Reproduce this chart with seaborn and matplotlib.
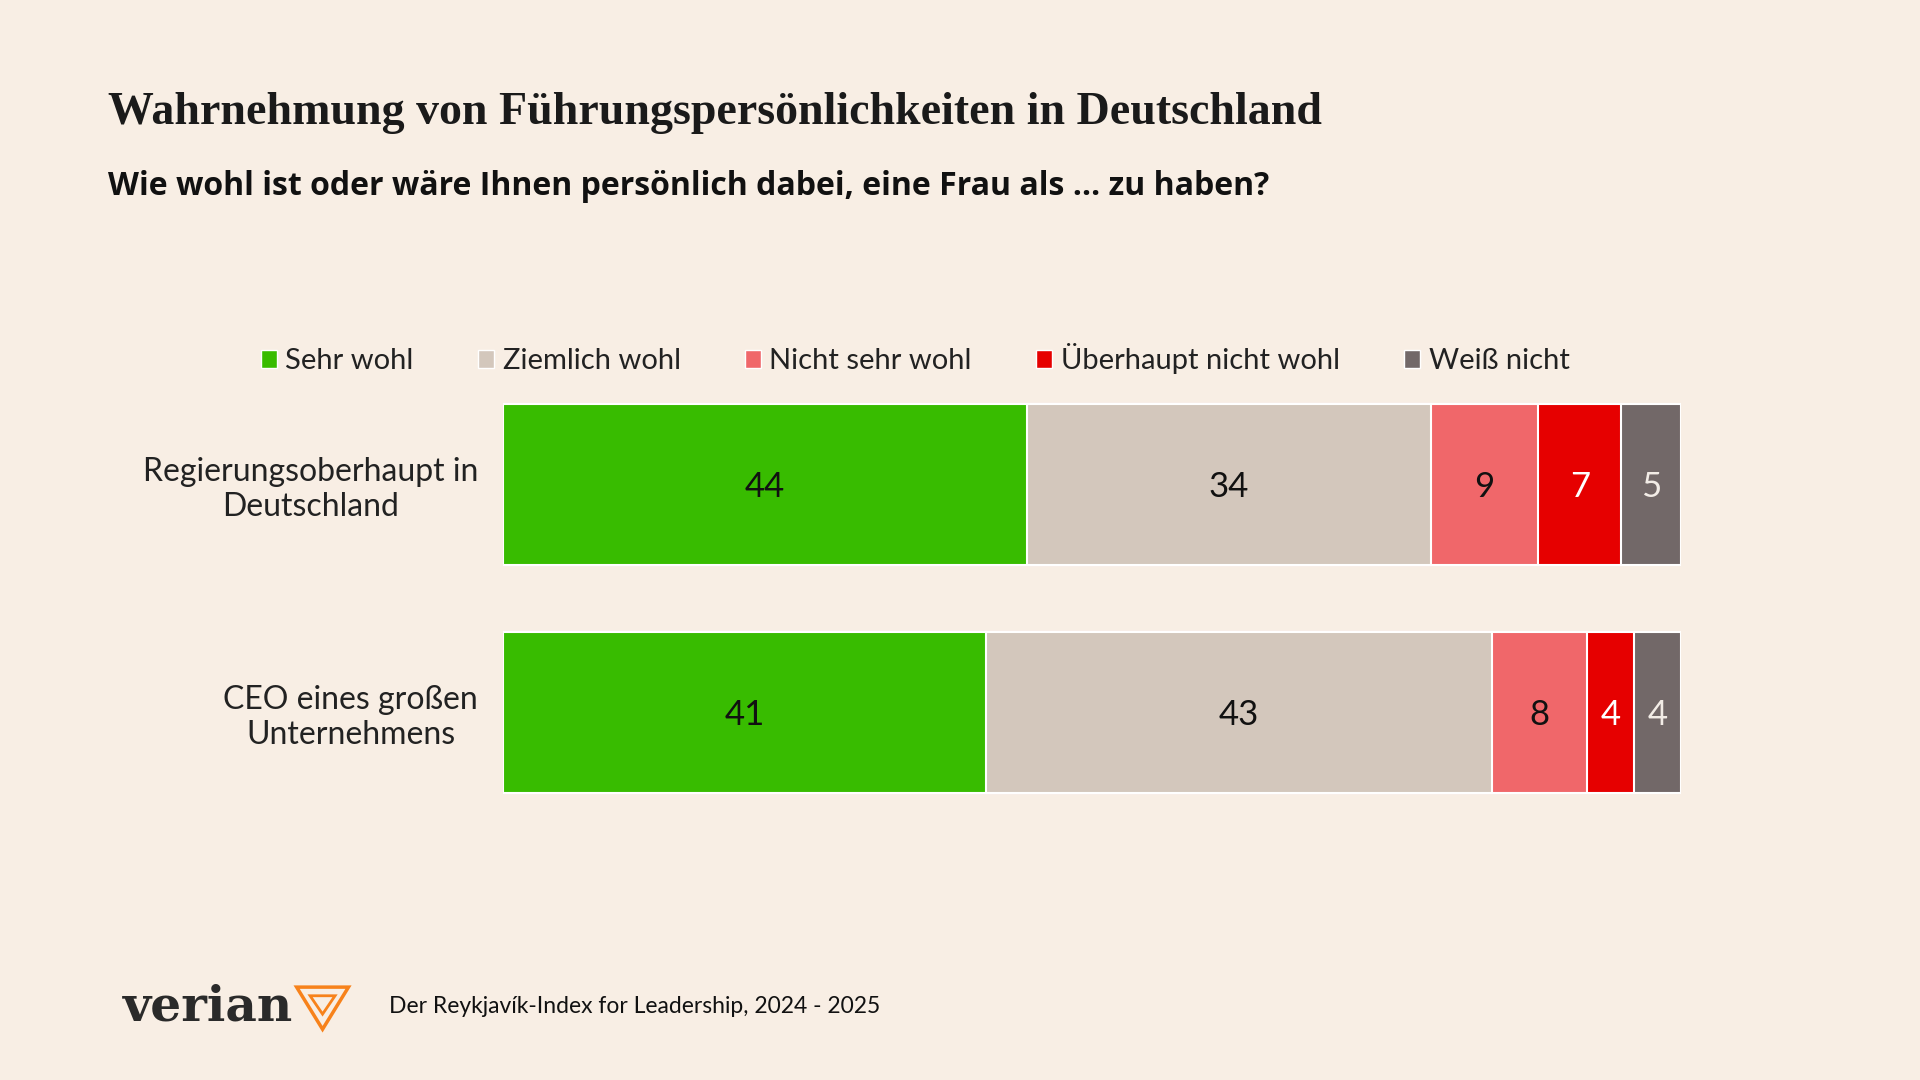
import numpy as np
import pandas as pd
import matplotlib
matplotlib.use("Agg")
import matplotlib.pyplot as plt
from matplotlib.patches import Patch, Polygon
import seaborn as sns

# Daten
kategorien = ["Regierungsoberhaupt in\nDeutschland", "CEO eines großen\nUnternehmens"]
antworten = ["Sehr wohl", "Ziemlich wohl", "Nicht sehr wohl", "Überhaupt nicht wohl", "Weiß nicht"]
sehr_wohl = [44, 41]
ziemlich_wohl = [34, 43]
nicht_sehr_wohl = [9, 8]
ueberhaupt_nicht = [7, 4]
weiss_nicht = [5, 4]

farben = ["#38BC00", "#D3C7BC", "#F0676A", "#E60000", "#726868"]
textfarben = ["#111111", "#111111", "#111111", "#FFFFFF", "#F2ECE6"]
hintergrund = "#F8EEE4"

df = pd.DataFrame(
    [sehr_wohl, ziemlich_wohl, nicht_sehr_wohl, ueberhaupt_nicht, weiss_nicht],
    index=antworten, columns=kategorien,
).T
# Balken auf 100 % normieren (wie im Original)
anteile = df.div(df.sum(axis=1), axis=0) * 100
kumuliert = anteile.cumsum(axis=1)

sns.set_theme(style="white")
plt.rcParams["font.family"] = ["Lato", "DejaVu Sans"]

fig = plt.figure(figsize=(19.2, 10.8), dpi=100, facecolor=hintergrund)
ax = fig.add_axes([0.262, 0.235, 0.6135, 0.422])
ax.set_facecolor(hintergrund)

# gestapelte Balken: vom Gesamtwert rückwärts übereinander zeichnen
for i in range(len(antworten) - 1, -1, -1):
    daten = pd.DataFrame({"kategorie": kategorien, "wert": kumuliert.iloc[:, i].values})
    sns.barplot(data=daten, x="wert", y="kategorie", color=farben[i], orient="h",
                width=0.706, edgecolor="#FFFFFF", linewidth=1.5, saturation=1, ax=ax)

# Werte in die Segmente schreiben
for r, kat in enumerate(kategorien):
    links = 0
    for i, antw in enumerate(antworten):
        breite = anteile.loc[kat, antw]
        ax.text(links + breite / 2, r + 0.01, f"{df.loc[kat, antw]}", ha="center", va="center",
                fontsize=25, color=textfarben[i])
        links += breite

ax.set_xlim(0, 100)
ax.set_ylim(1.5, -0.5)
ax.set_xlabel("")
ax.set_ylabel("")
ax.set_xticks([])
ax.tick_params(axis="y", length=0, pad=18)
ax.set_yticks(range(len(kategorien)))
ax.set_yticklabels(kategorien, fontsize=23, color="#222222", ha="right",
                   multialignment="center", linespacing=1.2)
sns.despine(ax=ax, left=True, bottom=True)

# Legende
handles = [Patch(facecolor=f, edgecolor="#FFFFFF", linewidth=1) for f in farben]
fig.legend(handles, antworten, loc="center", bbox_to_anchor=(0.4766, 0.668), ncol=5,
           frameon=False, fontsize=21, handlelength=0.55, handleheight=0.6,
           handletextpad=0.3, columnspacing=2.2, labelcolor="#222222")

# Titel und Untertitel
fig.text(0.056, 0.895, "Wahrnehmung von Führungspersönlichkeiten in Deutschland",
         fontsize=33, fontweight="bold", family=["Liberation Serif"], color="#1A1A1A",
         va="center", ha="left")
fig.text(0.056, 0.827, "Wie wohl ist oder wäre Ihnen persönlich dabei, eine Frau als … zu haben?",
         fontsize=23, fontweight="bold", family=["Open Sans", "DejaVu Sans"], color="#111111",
         va="center", ha="left")

# Fußzeile mit Logo
fig.text(0.064, 0.068, "verian", fontsize=35, fontweight="bold",
         family=["DejaVu Serif"], color="#2A2A2A", va="center", ha="left")
orange = "#F7821B"
aussen = Polygon([[0.1545, 0.086], [0.1815, 0.086], [0.1680, 0.047]], closed=True,
                 fill=False, edgecolor=orange, linewidth=2.5, transform=fig.transFigure)
innen = Polygon([[0.1615, 0.078], [0.1745, 0.078], [0.1680, 0.061]], closed=True,
                fill=False, edgecolor=orange, linewidth=2.0, transform=fig.transFigure)
fig.add_artist(aussen)
fig.add_artist(innen)
fig.text(0.2026, 0.068, "Der Reykjavík-Index for Leadership, 2024 - 2025", fontsize=16.5,
         color="#111111", va="center", ha="left")

fig.savefig("out.png", dpi=100, facecolor=hintergrund)
